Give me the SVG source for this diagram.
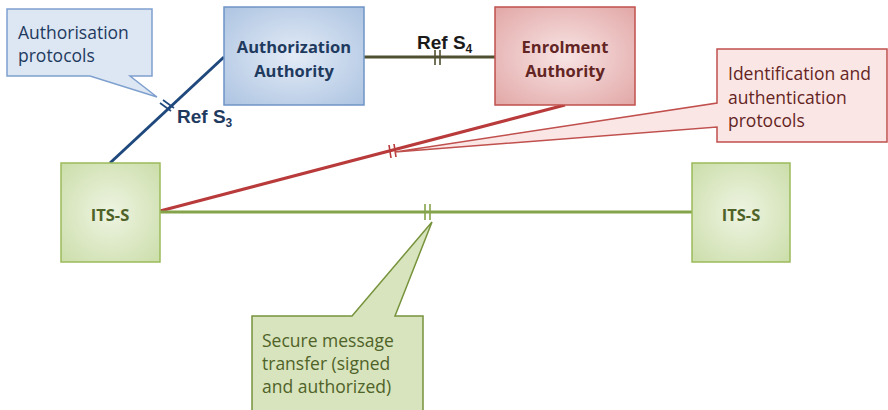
<svg xmlns="http://www.w3.org/2000/svg" width="888" height="410" viewBox="0 0 888 410">
  <defs>
    <radialGradient id="gBlue" cx="50%" cy="50%" r="75%">
      <stop offset="0" stop-color="#e3ebf6"/>
      <stop offset="1" stop-color="#a9c1e0"/>
    </radialGradient>
    <radialGradient id="gRed" cx="50%" cy="50%" r="75%">
      <stop offset="0" stop-color="#f8e4e4"/>
      <stop offset="1" stop-color="#e0a3a2"/>
    </radialGradient>
    <radialGradient id="gGreen" cx="50%" cy="50%" r="75%">
      <stop offset="0" stop-color="#eef4e2"/>
      <stop offset="1" stop-color="#c9dca6"/>
    </radialGradient>
    <style>
      .box-label { font-family: "Open Sans", "Liberation Sans", sans-serif; font-weight: bold; font-size: 16.5px; text-anchor: middle; }
      .note { font-family: "Open Sans", "Liberation Sans", sans-serif; font-size: 17.5px; }
      .ref { font-family: "Liberation Sans", Arial, sans-serif; font-weight: bold; font-size: 19px; }
      .sub { font-size: 12px; }
      .conn { fill: none; stroke-width: 3; }
      .tick { fill: none; stroke-width: 1.6; }
    </style>
  </defs>

  <!-- connectors -->
  <g id="connectors">
    <line class="conn" x1="364" y1="57" x2="495" y2="57" stroke="#4f5030"/>
    <line class="conn" x1="110" y1="163" x2="224" y2="57" stroke="#1f497d"/>
    <line class="conn" x1="160" y1="211" x2="565" y2="105" stroke="#b93a3a"/>
    <line class="conn" x1="160" y1="212" x2="692" y2="212" stroke="#84a34a"/>
    <!-- break marks -->
    <g stroke="#4f5030" class="tick">
      <line x1="435" y1="50" x2="435" y2="65"/>
      <line x1="440" y1="50" x2="440" y2="65"/>
    </g>
    <g stroke="#1f497d" class="tick">
      <line x1="160" y1="103" x2="171" y2="111"/>
      <line x1="163" y1="100" x2="174" y2="108"/>
    </g>
    <g stroke="#b93a3a" class="tick">
      <line x1="389" y1="145" x2="391" y2="158"/>
      <line x1="394" y1="144" x2="396" y2="157"/>
    </g>
    <g stroke="#84a34a" class="tick">
      <line x1="425" y1="204" x2="425" y2="220"/>
      <line x1="430" y1="204" x2="430" y2="220"/>
    </g>
  </g>

  <!-- Authorization Authority -->
  <g id="authorization-authority">
    <rect x="224" y="7" width="140" height="98" fill="url(#gBlue)" stroke="#6f94c6" stroke-width="1.5"/>
    <text class="box-label" x="294" y="53" fill="#1f3a5f">Authorization</text>
    <text class="box-label" x="294" y="77" fill="#1f3a5f">Authority</text>
  </g>

  <!-- Enrolment Authority -->
  <g id="enrolment-authority">
    <rect x="495" y="7" width="140" height="98" fill="url(#gRed)" stroke="#c0504d" stroke-width="1.5"/>
    <text class="box-label" x="565" y="53" fill="#632523">Enrolment</text>
    <text class="box-label" x="565" y="77" fill="#632523">Authority</text>
  </g>

  <!-- ITS-S left -->
  <g id="its-s-left">
    <rect x="61" y="163" width="99" height="99" fill="url(#gGreen)" stroke="#9bbb59" stroke-width="1.5"/>
    <text class="box-label" x="110" y="221" fill="#4f6228">ITS-S</text>
  </g>

  <!-- ITS-S right -->
  <g id="its-s-right">
    <rect x="692" y="163" width="98" height="99" fill="url(#gGreen)" stroke="#9bbb59" stroke-width="1.5"/>
    <text class="box-label" x="741" y="221" fill="#4f6228">ITS-S</text>
  </g>

  <!-- reference point labels -->
  <g id="ref-s4">
    <text class="ref" x="417" y="49" fill="#1a1a1a">Ref S<tspan class="sub" dy="4">4</tspan></text>
  </g>
  <g id="ref-s3">
    <text class="ref" x="177" y="123" fill="#1f3a5f">Ref S<tspan class="sub" dy="4">3</tspan></text>
  </g>

  <!-- Authorisation protocols callout -->
  <g id="callout-authorisation">
    <path d="M7,9 H152 V76 H130 L157,97 L90,76 H7 Z" fill="#dde7f3" stroke="#7fa0cf" stroke-width="1.5"/>
    <text class="note" x="18" y="39" fill="#1f3a5f">Authorisation</text>
    <text class="note" x="18" y="62" fill="#1f3a5f">protocols</text>
  </g>

  <!-- Identification and authentication protocols callout -->
  <g id="callout-identification">
    <path d="M717,49 H887 V142 H717 V127 L395,152 L717,103 Z" fill="#fbe6e6" stroke="#c0504d" stroke-width="1.5"/>
    <text class="note" x="728" y="80" fill="#632523">Identification and</text>
    <text class="note" x="728" y="104" fill="#632523">authentication</text>
    <text class="note" x="728" y="127" fill="#632523">protocols</text>
  </g>

  <!-- Secure message transfer callout -->
  <g id="callout-secure">
    <path d="M252,316 H352 L432,222 L395,316 H423 V412 H252 Z" fill="#d7e4bd" stroke="#77933c" stroke-width="1.5"/>
    <text class="note" x="262" y="347" fill="#4f6228">Secure message</text>
    <text class="note" x="262" y="370" fill="#4f6228">transfer (signed</text>
    <text class="note" x="262" y="393" fill="#4f6228">and authorized)</text>
  </g>
</svg>
